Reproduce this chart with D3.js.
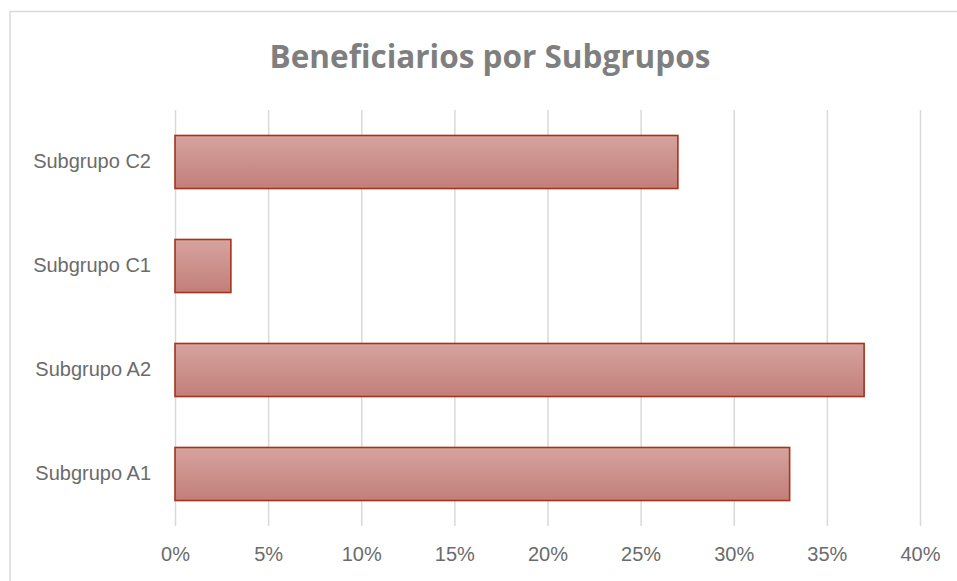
<!DOCTYPE html>
<html>
<head>
<meta charset="utf-8">
<script src="https://cdn.jsdelivr.net/npm/d3@7"></script>
<style>
  body { margin: 0; background: #fff; }
  svg { display: block; font-family: "Open Sans", Lato, sans-serif; }
</style>
</head>
<body>
<div id="chart"></div>
<script>
const categories = ['Subgrupo A1', 'Subgrupo A2', 'Subgrupo C1', 'Subgrupo C2'];
const shares = [0.33, 0.37, 0.03, 0.27];
const tickValues = [0, 0.05, 0.1, 0.15, 0.2, 0.25, 0.3, 0.35, 0.4];
const chartTitle = 'Beneficiarios por Subgrupos';

const data = categories.map((c, i) => ({ category: c, value: shares[i] }));

const svg = d3
  .select('div#chart')
  .append('svg')
  .attr('width', 957)
  .attr('height', 581);

// chart frame runs off the right and bottom of the picture
svg
  .append('rect')
  .attr('x', 10)
  .attr('y', 11.5)
  .attr('width', 960)
  .attr('height', 600)
  .attr('fill', '#fff')
  .attr('stroke', '#d9d9d9')
  .attr('stroke-width', 1.5);

const margin = { top: 110, left: 175 };
const plotWidth = 745;
const plotHeight = 416;

const xScale = d3.scaleLinear().domain([0, 0.4]).range([0, plotWidth]);
const yScale = d3
  .scaleBand()
  .domain(categories.slice().reverse())
  .range([0, plotHeight])
  .paddingInner(0.49)
  .paddingOuter(0.245);

const defs = svg.append('defs');
const grad = defs
  .append('linearGradient')
  .attr('id', 'barFill')
  .attr('x1', 0).attr('y1', 0)
  .attr('x2', 0).attr('y2', 1);
grad.append('stop').attr('offset', '0%').attr('stop-color', '#d6a39e');
grad.append('stop').attr('offset', '100%').attr('stop-color', '#c27f7a');

const plot = svg
  .append('g')
  .attr('transform', `translate(${margin.left},${margin.top})`);

// vertical gridlines
plot
  .append('g')
  .attr('class', 'x gridlines')
  .attr('transform', `translate(0,${plotHeight})`)
  .call(d3.axisBottom(xScale).tickValues(tickValues).tickSize(-plotHeight).tickFormat(''))
  .call((g) => g.select('.domain').remove())
  .call((g) => g.selectAll('line').attr('stroke', '#d9d9d9').attr('stroke-width', 1.5));

// tick labels
plot
  .append('g')
  .attr('class', 'x axis')
  .attr('transform', `translate(0,${plotHeight})`)
  .call(d3.axisBottom(xScale).tickValues(tickValues).tickSize(0).tickPadding(21).tickFormat(d3.format('.0%')))
  .call((g) => g.select('.domain').remove())
  .call((g) =>
    g.selectAll('text').attr('fill', '#6b6b6b').style('font-size', '20px')
  );

// category labels
plot
  .append('g')
  .attr('class', 'y axis')
  .call(d3.axisLeft(yScale).tickSize(0).tickPadding(24))
  .call((g) => g.select('.domain').remove())
  .call((g) =>
    g.selectAll('text').attr('fill', '#6b6b6b').style('font-size', '20px')
  );

plot
  .selectAll('rect.bar')
  .data(data)
  .join('rect')
  .attr('class', 'bar')
  .attr('x', xScale(0))
  .attr('y', (d) => yScale(d.category))
  .attr('width', (d) => xScale(d.value) - xScale(0))
  .attr('height', yScale.bandwidth())
  .attr('fill', 'url(#barFill)')
  .attr('stroke', '#a8321a')
  .attr('stroke-width', 1.6);

svg
  .append('text')
  .attr('x', 490)
  .attr('y', 68)
  .attr('text-anchor', 'middle')
  .attr('fill', '#7f7f7f')
  .style('font-size', '31.5px')
  .style('font-weight', 'bold')
  .text(chartTitle);
</script>
</body>
</html>
